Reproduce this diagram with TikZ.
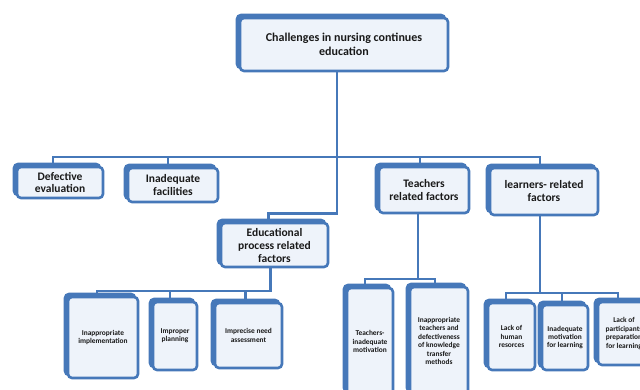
\documentclass[tikz,border=0pt]{standalone}
\usepackage{fontspec}
\setmainfont{Carlito}
\usetikzlibrary{backgrounds}
\definecolor{bblue}{RGB}{70,120,185}
\definecolor{bfill}{RGB}{238,243,250}
\tikzset{
  conn/.style={draw=bblue, line width=2.7pt},
  box/.style={draw=bblue, fill=bfill, line width=2.6pt, rounded corners=4pt,
    align=center, text=black!90, inner sep=1pt,
    font=\bfseries\fontsize{11.5}{13}\selectfont,
    preaction={draw=bblue, fill=bblue, transform canvas={shift={(-3pt,3pt)}}}},
  sbox/.style={box, font=\bfseries\fontsize{7.4}{8.4}\selectfont},
}
\begin{document}
\begin{tikzpicture}[x=1pt, y=-1pt]
\useasboundingbox (0,0) rectangle (640,390);
\clip (0,0) rectangle (640,390);
% level 0
\node[box, minimum width=208pt, minimum height=53pt,
      font=\bfseries\fontsize{12}{14}\selectfont] (top) at (344,44.5)
      {Challenges in nursing continues\\education};
% level 1
\node[box, minimum width=86pt, minimum height=31pt] (def) at (60,182.5) {Defective\\evaluation};
\node[box, minimum width=90pt, minimum height=34pt] (fac) at (173,185) {Inadequate\\facilities};
\node[box, minimum width=90pt, minimum height=46pt] (tea) at (424,190) {Teachers\\related factors};
\node[box, minimum width=108pt, minimum height=47pt] (lea) at (544,191.5) {learners- related\\factors};
\node[box, minimum width=107pt, minimum height=44pt] (edu) at (274.5,245) {Educational\\process related\\factors};
% level 2
\node[sbox, minimum width=70pt, minimum height=81pt] (impl) at (103,337.5) {Inappropriate\\implementation};
\node[sbox, minimum width=44pt, minimum height=68pt] (plan) at (175,336) {Improper\\planning};
\node[sbox, minimum width=67pt, minimum height=65pt] (need) at (248.5,335.5) {Imprecise need\\assessment};
\node[sbox, minimum width=46pt, minimum height=107pt] (tmot) at (370,341.5) {Teachers-\\inadequate\\motivation};
\node[sbox, minimum width=58pt, minimum height=108pt] (tmeth) at (439,341) {Inappropriate\\teachers and\\defectiveness\\of knowledge\\transfer\\methods};
\node[sbox, minimum width=47pt, minimum height=67pt] (hum) at (511.5,336.5) {Lack of\\human\\resorces};
\node[sbox, minimum width=46pt, minimum height=65pt] (lmot) at (565,337.5) {Inadequate\\motivation\\for learning};
\node[sbox, minimum width=52pt, minimum height=63pt] (prep) at (624,333.5) {Lack of\\participants\\preparation\\for learning};
% connectors
\begin{scope}[on background layer]
\coordinate (bus) at (0,157);
\coordinate (eb) at (0,291);
\coordinate (tb) at (0,279);
\coordinate (lb) at (0,293);
\draw[conn] ([xshift=-7pt]top.south) |- ([xshift=-6pt,yshift=8pt]edu.north) -- ([xshift=-6pt]edu.north);
\draw[conn] ([xshift=-7pt]def.north) -- ([xshift=-7pt]def.north |- bus) -| ([xshift=-4pt]lea.north);
\draw[conn] ([xshift=-5pt]fac.north) -- ([xshift=-5pt]fac.north |- bus);
\draw[conn] ([xshift=-4pt]tea.north) -- ([xshift=-4pt]tea.north |- bus);
% educational children
\draw[conn] ([xshift=-4pt]edu.south) |- ([xshift=-6pt]impl.north |- eb) -- ([xshift=-6pt]impl.north);
\draw[conn] ([xshift=-5pt]plan.north) -- ([xshift=-5pt]plan.north |- eb);
\draw[conn] ([xshift=-3pt]need.north) -- ([xshift=-3pt]need.north |- eb) -- ([xshift=-4pt]edu.south |- eb);
% teachers children
\draw[conn] ([xshift=-6pt]tea.south) |- ([xshift=-5pt]tmot.north |- tb) -- ([xshift=-5pt]tmot.north);
\draw[conn] ([xshift=-4pt]tmeth.north) -- ([xshift=-4pt]tmeth.north |- tb) -- ([xshift=-6pt]tea.south |- tb);
% learners children
\draw[conn] ([xshift=-4pt]lea.south) -- ([xshift=-4pt]lea.south |- lb);
\draw[conn] ([xshift=-5.5pt]hum.north) |- ([xshift=-6pt]prep.north |- lb) -- ([xshift=-6pt]prep.north);
\draw[conn] ([xshift=-3pt]lmot.north) -- ([xshift=-3pt]lmot.north |- lb);
\end{scope}
\end{tikzpicture}
\end{document}
